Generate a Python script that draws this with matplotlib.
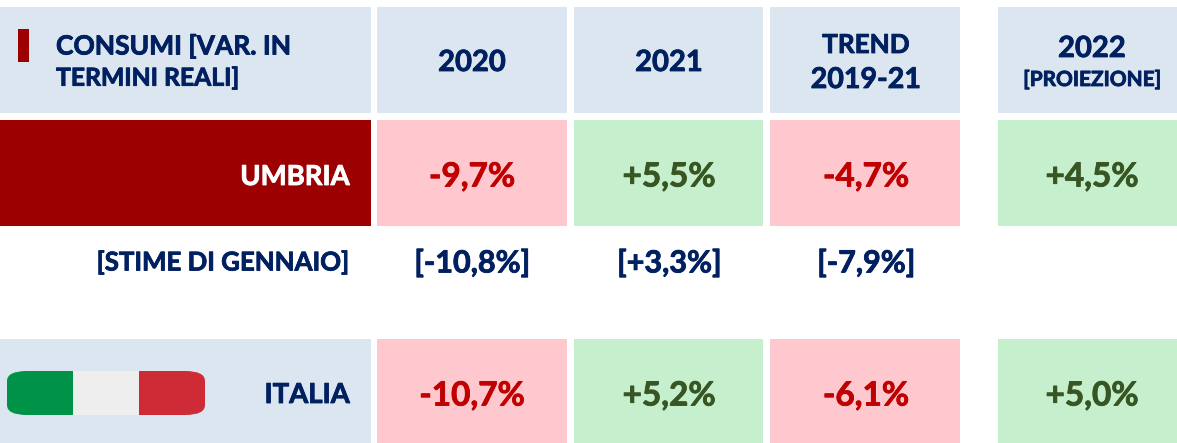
import matplotlib
matplotlib.use("Agg")
import matplotlib.pyplot as plt
import matplotlib.patheffects as pe
from matplotlib.patches import Rectangle, FancyBboxPatch

# data
columns = ["2020", "2021", "TREND\n2019-21"]
umbria = ["-9,7%", "+5,5%", "-4,7%", "+4,5%"]
gennaio = ["[-10,8%]", "[+3,3%]", "[-7,9%]"]
italia = ["-10,7%", "+5,2%", "-6,1%", "+5,0%"]
signs = [-1, 1, -1, 1]

# colours
NAVY = "#002060"
HEAD = "#dce6f1"
DARKRED = "#9c0000"
PINK = "#ffc7ce"
GREEN = "#c6efce"
RED_TXT = "#c00000"
GREEN_TXT = "#375623"
FONT = "Lato"

# column edges and row edges in pixels
col_x = [(377, 567), (574, 763), (770, 960), (998, 1177)]
text_x = [472, 669, 866, 1092]
rows = [(7, 113), (120, 226), (339, 443)]

fig = plt.figure(figsize=(11.77, 4.43), dpi=100)
ax = fig.add_axes([0, 0, 1, 1])
ax.set_xlim(0, 1177)
ax.set_ylim(443, 0)
ax.axis("off")


def cell(x0, x1, row, color):
    y0, y1 = row
    ax.add_patch(Rectangle((x0, y0), x1 - x0, y1 - y0, fc=color, ec="none"))


def label(x, y, s, size=21, color=NAVY, ha="center"):
    # thin stroke to thicken the bold a bit
    ax.text(x, y, s, fontsize=size, color=color, ha=ha, va="center",
            family=FONT, fontweight="bold",
            path_effects=[pe.withStroke(linewidth=0.6, foreground=color)])


# left column
cell(0, 371, rows[0], HEAD)
cell(0, 371, rows[1], DARKRED)
cell(0, 371, rows[2], HEAD)
ax.add_patch(Rectangle((18, 29), 11, 33, fc=DARKRED, ec="none"))
label(56, 46, "CONSUMI [VAR. IN", size=19, ha="left")
label(56, 78, "TERMINI REALI]", size=17.8, ha="left")
label(350, 177, "UMBRIA", size=19.8, color="white", ha="right")
label(350, 262, "[STIME DI GENNAIO]", size=18.6, ha="right")
label(350, 395, "ITALIA", size=19.8, ha="right")

# header row
for x, (x0, x1), name in zip(text_x, col_x[:3], columns):
    cell(x0, x1, rows[0], HEAD)
    if "\n" in name:
        top, bottom = name.split("\n")
        label(x, 45, top, size=18.8)
        label(x, 80, bottom, size=20.6)
    else:
        label(x, 63, name)
cell(*col_x[3], rows[0], HEAD)
label(text_x[3], 49, "2022")
label(text_x[3], 80, "[PROIEZIONE]", size=15)

# value rows
for i, (x0, x1) in enumerate(col_x):
    fill = GREEN if signs[i] > 0 else PINK
    txt = GREEN_TXT if signs[i] > 0 else RED_TXT
    cell(x0, x1, rows[1], fill)
    cell(x0, x1, rows[2], fill)
    label(text_x[i], 177, umbria[i], size=24, color=txt)
    label(text_x[i], 396, italia[i], size=24, color=txt)
    if i < 3:
        label(text_x[i], 263, gennaio[i], size=22)

# flag
outline = FancyBboxPatch((7, 371), 198, 44, boxstyle="round,pad=0,rounding_size=20",
                         mutation_aspect=0.5, fc="none", ec="none")
ax.add_patch(outline)
for x0, x1, c in [(7, 73, "#009246"), (73, 139, "#eeeeee"), (139, 205, "#ce2b37")]:
    stripe = Rectangle((x0, 371), x1 - x0, 44, fc=c, ec="none")
    ax.add_patch(stripe)
    stripe.set_clip_path(outline)

fig.savefig("out.png", dpi=100)
